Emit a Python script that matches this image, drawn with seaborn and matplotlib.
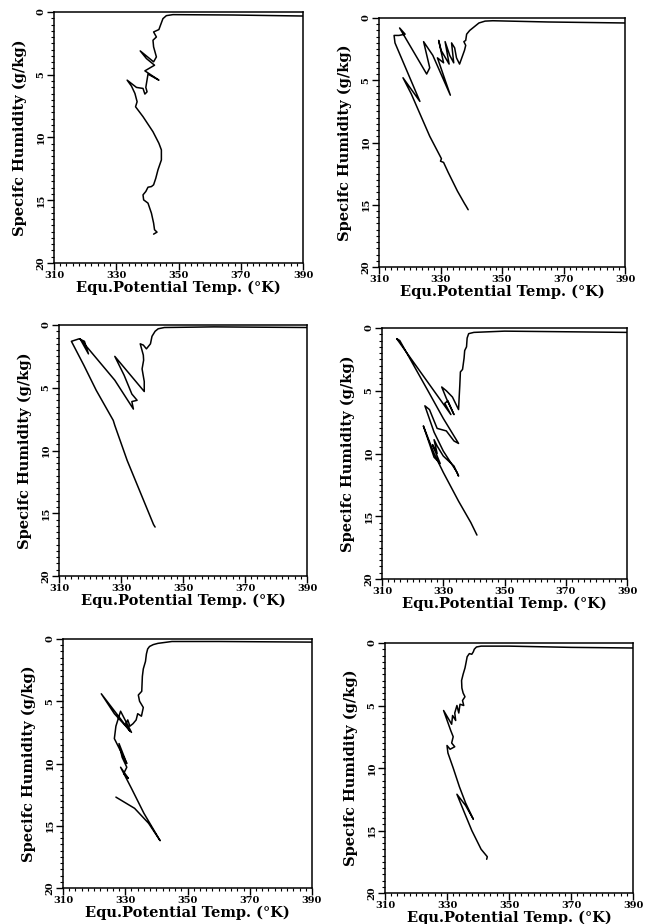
import matplotlib
matplotlib.use("Agg")
import matplotlib.pyplot as plt
import seaborn as sns
import pandas as pd
from matplotlib.ticker import MultipleLocator

# ---------------- data ----------------
theta_1 = [390, 367.5, 348.2, 346.1, 345.0, 344.2, 343.7, 342.0, 342.9, 341.8, 342.0, 342.9,
           342.0, 337.7, 339.7, 342.3, 339.2, 343.7, 340.2, 339.7, 339.5, 339.9, 339.2, 338.6,
           336.5, 333.5, 334.9, 336.0, 336.7, 336.2, 338.6, 341.8, 343.7, 344.5, 344.5, 343.4,
           342.7, 342.0, 341.3, 340.2, 339.5, 338.6, 338.8, 340.2, 341.3, 342.0, 342.3, 343.1, 342.0]
q_1 = [0.32, 0.24, 0.21, 0.29, 0.53, 1.06, 1.40, 1.59, 1.99, 2.25, 2.78, 3.58,
       3.97, 3.10, 3.71, 4.24, 4.69, 5.43, 4.95, 5.70, 6.01, 6.36, 6.54, 6.09,
       6.01, 5.43, 5.91, 6.49, 7.15, 7.55, 8.34, 9.54, 10.46, 10.99, 11.79, 12.58,
       13.25, 13.77, 13.91, 13.96, 14.30, 14.57, 14.97, 15.23, 16.03, 16.82, 17.35, 17.54, 17.70]

theta_2 = [390, 365, 347, 344.5, 342.5, 341, 339.5, 338.5, 338.2, 337.6, 338.2, 337.8, 336.2,
           335.2, 334.6, 333.6, 334.3, 333.0, 331.5, 332.8, 330.2, 329.4, 331.0, 329.0, 333.2,
           327.5, 324.5, 326.5, 325.5, 316.7, 318.5, 316.5, 314.9, 315.2, 323.3, 317.8, 320.5,
           323.5, 326.5, 330.3, 330.0, 331.0, 332.5, 335.5, 337.8, 338.3, 339.0]
q_2 = [0.40, 0.32, 0.22, 0.25, 0.40, 0.70, 1.00, 1.30, 1.80, 1.90, 2.20, 2.60, 3.70,
       3.20, 2.40, 2.00, 3.60, 3.00, 1.90, 3.70, 2.60, 1.80, 3.60, 3.20, 6.20,
       3.00, 1.90, 4.00, 4.50, 0.80, 1.30, 1.40, 1.40, 2.00, 6.70, 4.80, 6.10,
       7.80, 9.50, 11.3, 11.5, 11.6, 12.4, 13.9, 14.9, 15.1, 15.4]

theta_3 = [390, 360, 344, 342, 341, 340, 339.5, 338.2, 337.2, 336.2, 337.2, 337.3, 336.8,
           337.5, 337.5, 328.0, 331.0, 333.5, 335.2, 333.5, 334.0, 328.0, 316.8, 319.5, 318.2,
           316.5, 314.0, 318.0, 322.0, 327.5, 328.0, 330.0, 332.0, 335.0, 338.0, 340.5, 341.0]
q_3 = [0.20, 0.15, 0.20, 0.30, 0.50, 0.90, 1.50, 1.90, 1.60, 1.50, 2.40, 2.80, 3.50,
       4.50, 5.30, 2.50, 4.00, 5.50, 6.00, 6.10, 6.70, 4.40, 1.10, 2.30, 1.30,
       1.10, 1.30, 3.20, 5.20, 7.60, 8.00, 9.40, 10.8, 12.6, 14.4, 15.9, 16.1]

theta_4 = [390, 370, 350, 345, 340, 338.3, 337.8, 337.6, 337.0, 336.8, 336.3, 335.6, 335.4,
           335.2, 335.0, 333.0, 331.0, 329.5, 331.0, 333.5, 331.5, 330.5, 332.5, 314.8, 315.8,
           325.0, 330.0, 335.0, 333.5, 331.0, 328.0, 325.5, 324.0, 327.0, 330.0, 334.5, 335.0,
           333.5, 330.0, 328.0, 327.0, 328.0, 326.5, 329.0, 327.0, 323.5, 327.0, 330.0, 335.0,
           339.0, 341.0]
q_4 = [0.35, 0.30, 0.25, 0.30, 0.35, 0.45, 0.80, 1.50, 1.80, 2.40, 3.30, 3.50, 4.60,
       5.50, 6.50, 5.50, 5.00, 4.70, 5.60, 6.90, 5.80, 6.00, 6.90, 0.85, 1.00,
       5.00, 7.20, 9.20, 9.00, 8.20, 8.00, 6.50, 6.20, 8.30, 9.80, 11.5, 11.8,
       11.0, 10.2, 9.40, 8.90, 10.0, 9.30, 10.8, 10.3, 7.80, 10.0, 11.5, 13.8,
       15.5, 16.5]

theta_5 = [390, 360, 345, 342, 340.5, 339, 337.8, 337.2, 336.8, 336.5, 335.8, 335.5, 335.3,
           334.2, 334.6, 335.8, 335.2, 334.0, 333.5, 332.5, 331.5, 330.8, 330.2, 331.5, 322.3,
           326.5, 332.0, 328.5, 327.0, 326.5, 328.5, 330.5, 328.0, 329.0, 330.5, 329.5, 331.0,
           328.5, 332.0, 336.0, 341.2, 337.5, 333.0, 327.0]
q_5 = [0.25, 0.20, 0.20, 0.30, 0.35, 0.45, 0.60, 0.80, 1.20, 1.80, 2.40, 3.00, 4.20,
       4.50, 5.00, 5.50, 6.20, 6.00, 6.50, 6.80, 7.00, 6.50, 6.80, 7.40, 4.40,
       6.00, 7.50, 5.80, 7.00, 8.00, 9.00, 10.0, 8.40, 9.50, 10.3, 10.8, 11.2,
       10.3, 12.0, 14.0, 16.2, 14.8, 13.6, 12.7]

theta_6 = [390, 370, 350, 341, 339.5, 338.8, 338.5, 338.0, 337.2, 336.5, 336.2, 335.8, 335.2,
           334.7, 334.8, 335.2, 335.8, 335.0, 335.4, 334.2, 333.8, 333.2, 332.5, 332.8, 331.8,
           331.5, 330.8, 328.9, 331.2, 332.0, 331.5, 332.5, 331.0, 330.0, 330.3, 332.0, 334.0,
           336.0, 338.5, 336.0, 333.2, 335.5, 338.0, 341.0, 343.0, 342.8]
q_6 = [0.40, 0.35, 0.25, 0.25, 0.32, 0.50, 0.70, 0.90, 0.85, 1.10, 1.50, 2.00, 2.50,
       3.00, 3.60, 4.00, 4.30, 4.60, 5.00, 4.90, 5.60, 5.00, 5.60, 6.20, 5.80,
       6.50, 6.20, 5.40, 7.00, 7.50, 8.00, 8.30, 8.50, 8.20, 8.80, 10.0, 11.5,
       12.8, 14.1, 13.0, 12.1, 13.5, 15.0, 16.5, 17.1, 17.3]

x_ticks = [310, 330, 350, 370, 390]
y_ticks = [0, 5, 10, 15, 20]
x_label = "Equ.Potential Temp. (°K)"
y_label = "Specifc Humidity (g/kg)"

panels = [(theta_1, q_1), (theta_2, q_2), (theta_3, q_3),
          (theta_4, q_4), (theta_5, q_5), (theta_6, q_6)]

# ---------------- layout ----------------
sns.set_theme(style="white")
plt.rcParams["font.family"] = ["DejaVu Serif"]
plt.rcParams["text.color"] = "black"
plt.rcParams["axes.labelcolor"] = "black"
plt.rcParams["xtick.color"] = "black"
plt.rcParams["ytick.color"] = "black"

W, H = 645, 924
fig = plt.figure(figsize=(W / 100, H / 100), dpi=100)
fig.patch.set_facecolor("white")

# pixel boxes (left, right, top, bottom)
boxes = [(54, 303, 12, 263), (379, 625, 18, 267),
         (59, 307, 325, 576), (382, 627, 328, 579),
         (63, 312, 639, 888), (385, 633, 643, 893)]

for (th, q), (l, r, t, b) in zip(panels, boxes):
    ax = fig.add_axes([l / W, 1 - b / H, (r - l) / W, (b - t) / H])
    df = pd.DataFrame({"theta": th, "q": q})
    sns.lineplot(data=df, x="theta", y="q", sort=False, estimator=None,
                 color="black", linewidth=1.1, ax=ax)
    ax.set_xlim(310, 390)
    ax.set_ylim(20, 0)
    ax.set_facecolor("white")
    for s in ax.spines.values():
        s.set_color("black")
        s.set_linewidth(1.1)
    ax.set_xticks(x_ticks)
    ax.set_yticks(y_ticks)
    ax.set_xticklabels([str(v) for v in x_ticks], fontsize=7, fontweight="bold",
                       color="black")
    ax.set_yticklabels([str(v) for v in y_ticks], fontsize=7, fontweight="bold",
                       rotation=90, va="center", color="black")
    ax.xaxis.set_minor_locator(MultipleLocator(2))
    ax.yaxis.set_minor_locator(MultipleLocator(0.5))
    ax.tick_params(axis="both", which="major", direction="out", length=5, width=1.0,
                   color="black", pad=1, bottom=True, left=True, top=False, right=False)
    ax.tick_params(axis="both", which="minor", direction="out", length=2.5, width=0.8,
                   color="black", bottom=True, left=True, top=False, right=False)
    ax.set_xlabel(x_label, fontsize=10.5, fontweight="bold", labelpad=0, color="black")
    ax.set_ylabel(y_label, fontsize=10.5, fontweight="bold", labelpad=7, color="black")
    ax.grid(False)

fig.savefig("out.png", dpi=100, facecolor="white")
